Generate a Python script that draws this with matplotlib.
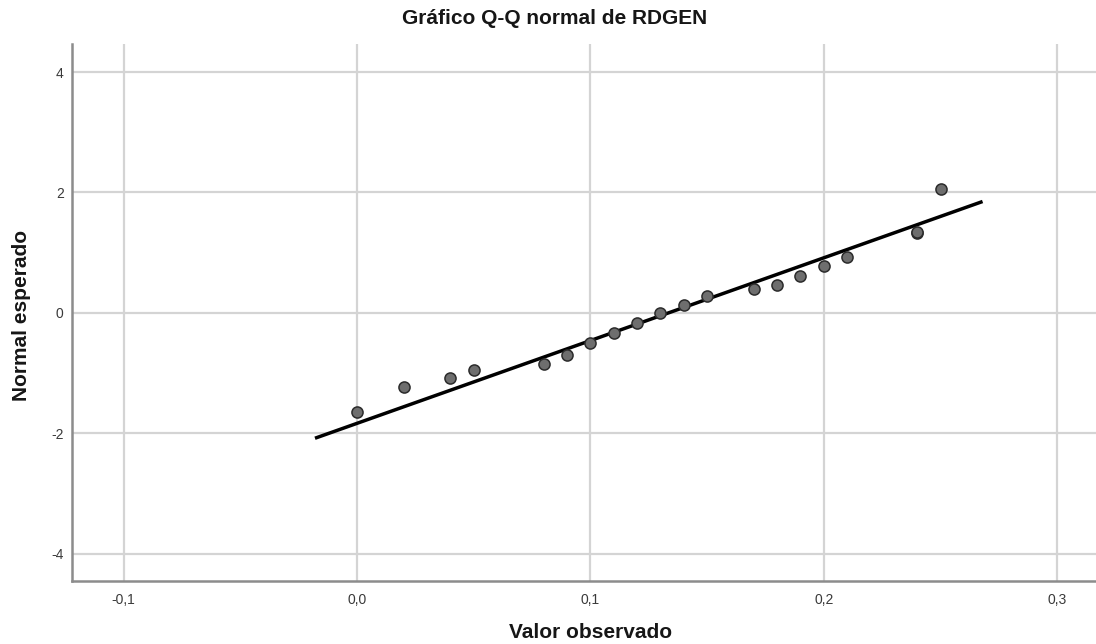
import matplotlib
matplotlib.use('Agg')
import matplotlib.pyplot as plt

valor_observado = [0.00, 0.02, 0.04, 0.05, 0.08, 0.09, 0.10, 0.11, 0.12, 0.13,
                   0.14, 0.15, 0.17, 0.18, 0.19, 0.20, 0.21, 0.24, 0.24, 0.25]
normal_esperado = [-1.65, -1.23, -1.08, -0.955, -0.84, -0.70, -0.50, -0.33, -0.16, 0.00,
                   0.13, 0.28, 0.39, 0.46, 0.62, 0.78, 0.93, 1.32, 1.35, 2.05]

# Recta de referencia (extremos)
linea_x = [-0.018, 0.268]
linea_y = [-2.08, 1.85]

x_ticks = [-0.1, 0.0, 0.1, 0.2, 0.3]
x_labels = ['-0,1', '0,0', '0,1', '0,2', '0,3']
y_ticks = [-4, -2, 0, 2, 4]
y_labels = ['-4', '-2', '0', '2', '4']

plt.rcParams['font.family'] = ['Liberation Sans', 'DejaVu Sans']

fig = plt.figure(figsize=(10.96, 6.44), dpi=100)
ax = fig.add_axes([72 / 1096, 63 / 644, 1 - 72 / 1096, (581 - 44) / 644])

ax.set_xlim(-0.1221, 0.3166)
ax.set_ylim(-4.45, 4.465)

ax.plot(linea_x, linea_y, color='black', linewidth=2.5, solid_capstyle='butt', zorder=3)
ax.scatter(valor_observado, normal_esperado, s=64, facecolor='#6e6e6e',
           edgecolor='#2b2b2b', linewidth=1.1, zorder=4)

ax.set_xticks(x_ticks)
ax.set_xticklabels(x_labels)
ax.set_yticks(y_ticks)
ax.set_yticklabels(y_labels)
ax.tick_params(length=0, labelsize=10, colors='#3a3a3a')
ax.tick_params(axis='x', pad=9)
ax.tick_params(axis='y', pad=6)

ax.grid(True, color='#d4d4d4', linewidth=1.6)
ax.set_axisbelow(True)
for s in ['top', 'right']:
    ax.spines[s].set_visible(False)
for s in ['left', 'bottom']:
    ax.spines[s].set_color('#8c8c8c')
    ax.spines[s].set_linewidth(1.8)

fig.text(555 / 1096, 1 - 19 / 644, 'Gráfico Q-Q normal de RDGEN', ha='center', va='center',
         fontsize=15, fontweight='bold', color='#161616')
fig.text(591 / 1096, 1 - 633 / 644, 'Valor observado', ha='center', va='center',
         fontsize=15, fontweight='bold', color='#161616')
fig.text(22 / 1096, 1 - 315 / 644, 'Normal esperado', ha='center', va='center',
         rotation=90, fontsize=15, fontweight='bold', color='#161616')

fig.savefig('out.png', dpi=100)
